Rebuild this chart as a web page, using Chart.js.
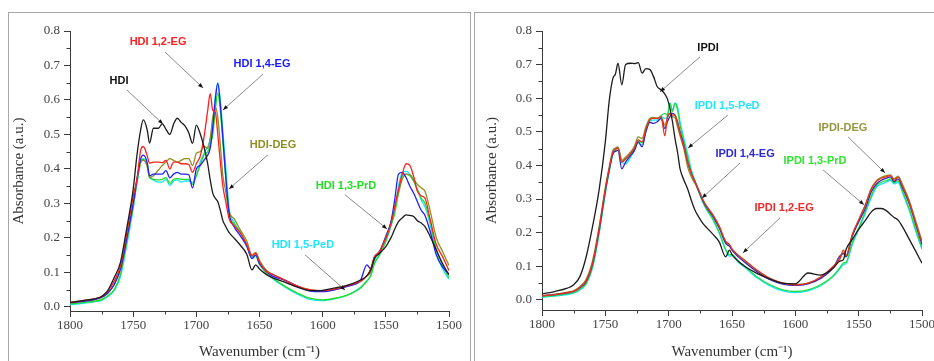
<!DOCTYPE html>
<html>
<head>
<meta charset="utf-8">
<script src="https://cdn.jsdelivr.net/npm/chart.js@4.4.1/dist/chart.umd.min.js"></script>
<style>
  html, body { margin: 0; padding: 0; background: #fff; }
  body { width: 934px; height: 361px; position: relative; overflow: hidden; }
  .panel { position: absolute; top: 12px; height: 370px; border: 1.5px solid #a8a8a8; box-sizing: border-box; }
  #boxL { left: 8px; width: 463px; }
  #boxR { left: 474px; width: 480px; }
  canvas { position: absolute; top: 14px; }
  #hdiChart { left: 10px; }
  #ipdiChart { left: 476px; }
</style>
</head>
<body>
<div class="panel" id="boxL"></div>
<div class="panel" id="boxR"></div>
<canvas id="hdiChart" width="458" height="347"></canvas>
<canvas id="ipdiChart" width="470" height="347"></canvas>
<script>
// ── FTIR spectra, 1800–1500 cm-1 ──────────────────────────────

// HDI panel
const wnHDI = [1800, 1790, 1780, 1775, 1770, 1765, 1760, 1755, 1750,
  1747, 1744, 1742, 1739, 1737, 1734, 1730, 1727, 1724, 1721,
  1718, 1715, 1712, 1709, 1706, 1703, 1700, 1697, 1694, 1691,
  1689, 1687, 1685, 1683, 1681, 1679, 1677, 1674, 1670, 1665,
  1660, 1656, 1653, 1650, 1645, 1640, 1630, 1620, 1610, 1600,
  1590, 1580, 1570, 1565, 1562, 1559, 1555, 1550, 1546, 1543,
  1540, 1537, 1534, 1531, 1528, 1525, 1522, 1519, 1515, 1510,
  1505, 1500];

const hdi = [0.013, 0.018, 0.024, 0.03, 0.048, 0.085, 0.13, 0.23, 0.34,
  0.44, 0.515, 0.542, 0.515, 0.475, 0.518, 0.518, 0.531, 0.515, 0.50,
  0.53, 0.547, 0.535, 0.525, 0.505, 0.474, 0.527, 0.503, 0.465, 0.415,
  0.368, 0.33, 0.315, 0.305, 0.28, 0.25, 0.235, 0.215, 0.199, 0.178,
  0.152, 0.107, 0.122, 0.11, 0.095, 0.085, 0.072, 0.057, 0.047, 0.048,
  0.055, 0.063, 0.078, 0.09, 0.107, 0.14, 0.155, 0.175, 0.2, 0.225,
  0.247, 0.258, 0.267, 0.265, 0.262, 0.25, 0.243, 0.233, 0.205, 0.165,
  0.125, 0.093];

const hdi12EG = [0.013, 0.018, 0.024, 0.03, 0.045, 0.075, 0.12, 0.215, 0.32,
  0.37, 0.455, 0.465, 0.44, 0.417, 0.42, 0.42, 0.418, 0.425, 0.40,
  0.42, 0.42, 0.415, 0.415, 0.413, 0.39, 0.415, 0.436, 0.49, 0.57,
  0.618, 0.57, 0.565, 0.50, 0.42, 0.35, 0.31, 0.255, 0.235, 0.213,
  0.18, 0.148, 0.155, 0.13, 0.104, 0.095, 0.078, 0.06, 0.049, 0.047,
  0.052, 0.062, 0.075, 0.09, 0.11, 0.145, 0.16, 0.2, 0.24, 0.29,
  0.34, 0.385, 0.415, 0.41, 0.378, 0.335, 0.322, 0.315, 0.255, 0.18,
  0.145, 0.105];

const hdi14EG = [0.012, 0.016, 0.022, 0.028, 0.04, 0.065, 0.11, 0.2, 0.3,
  0.37, 0.43, 0.44, 0.42, 0.38, 0.385, 0.385, 0.385, 0.395, 0.374,
  0.385, 0.39, 0.385, 0.385, 0.383, 0.345, 0.40, 0.41, 0.425, 0.44,
  0.46, 0.52, 0.60, 0.648, 0.585, 0.49, 0.39, 0.27, 0.232, 0.205,
  0.175, 0.14, 0.15, 0.125, 0.105, 0.09, 0.077, 0.06, 0.046, 0.044,
  0.05, 0.06, 0.078, 0.122, 0.11, 0.145, 0.16, 0.205, 0.245, 0.31,
  0.385, 0.39, 0.375, 0.35, 0.33, 0.305, 0.28, 0.265, 0.22, 0.15,
  0.115, 0.095];

const hdiDEG = [0.012, 0.016, 0.022, 0.027, 0.04, 0.065, 0.11, 0.2, 0.3,
  0.37, 0.42, 0.425, 0.41, 0.375, 0.38, 0.397, 0.41, 0.42, 0.43,
  0.425, 0.42, 0.425, 0.43, 0.43, 0.41, 0.445, 0.45, 0.465, 0.46,
  0.49, 0.55, 0.58, 0.55, 0.47, 0.38, 0.34, 0.275, 0.255, 0.222,
  0.19, 0.15, 0.158, 0.135, 0.108, 0.095, 0.078, 0.06, 0.05, 0.047,
  0.05, 0.06, 0.073, 0.09, 0.1, 0.14, 0.16, 0.2, 0.245, 0.29,
  0.33, 0.37, 0.385, 0.383, 0.37, 0.355, 0.345, 0.335, 0.28, 0.2,
  0.16, 0.12];

const hdi13PrD = [0.008, 0.012, 0.017, 0.021, 0.032, 0.05, 0.095, 0.19, 0.29,
  0.36, 0.42, 0.428, 0.41, 0.375, 0.37, 0.368, 0.37, 0.375, 0.358,
  0.37, 0.372, 0.37, 0.37, 0.37, 0.355, 0.38, 0.41, 0.44, 0.45,
  0.47, 0.50, 0.57, 0.62, 0.57, 0.48, 0.39, 0.27, 0.24, 0.215,
  0.18, 0.145, 0.15, 0.125, 0.1, 0.085, 0.06, 0.04, 0.025, 0.02,
  0.025, 0.035, 0.055, 0.075, 0.09, 0.125, 0.15, 0.19, 0.235, 0.27,
  0.33, 0.38, 0.385, 0.38, 0.365, 0.34, 0.315, 0.3, 0.25, 0.165,
  0.12, 0.085];

const hdi15PeD = [0.006, 0.01, 0.015, 0.019, 0.03, 0.048, 0.088, 0.18, 0.285,
  0.36, 0.42, 0.43, 0.415, 0.38, 0.368, 0.362, 0.362, 0.37, 0.352,
  0.365, 0.368, 0.362, 0.365, 0.365, 0.36, 0.38, 0.42, 0.445, 0.465,
  0.484, 0.53, 0.61, 0.65, 0.60, 0.51, 0.42, 0.285, 0.245, 0.215,
  0.178, 0.14, 0.148, 0.123, 0.1, 0.083, 0.058, 0.037, 0.022, 0.018,
  0.024, 0.035, 0.057, 0.075, 0.09, 0.13, 0.152, 0.19, 0.235, 0.28,
  0.35, 0.39, 0.393, 0.385, 0.365, 0.34, 0.31, 0.29, 0.24, 0.155,
  0.11, 0.08];

// IPDI panel
const wnIPDI = [1800, 1790, 1780, 1775, 1770, 1765, 1760, 1755, 1750,
  1747, 1744, 1742, 1740, 1737, 1734, 1730, 1727, 1724, 1721,
  1718, 1715, 1712, 1709, 1706, 1703, 1701, 1699, 1697, 1695,
  1693, 1691, 1688, 1685, 1682, 1679, 1676, 1673, 1670, 1665,
  1660, 1655, 1652, 1650, 1645, 1640, 1630, 1620, 1610, 1600,
  1590, 1580, 1570, 1565, 1562, 1560, 1555, 1550, 1545, 1540,
  1536, 1532, 1528, 1525, 1522, 1519, 1515, 1510, 1505, 1500];

const ipdi = [0.018, 0.025, 0.035, 0.045, 0.07, 0.13, 0.22, 0.325, 0.47,
  0.59, 0.66, 0.672, 0.704, 0.64, 0.70, 0.704, 0.703, 0.706, 0.675,
  0.688, 0.686, 0.665, 0.634, 0.625, 0.612, 0.598, 0.57, 0.53, 0.48,
  0.44, 0.39, 0.357, 0.33, 0.295, 0.265, 0.245, 0.228, 0.215, 0.195,
  0.172, 0.128, 0.148, 0.135, 0.115, 0.1, 0.078, 0.062, 0.05, 0.048,
  0.08, 0.074, 0.095, 0.115, 0.12, 0.15, 0.18, 0.21, 0.235, 0.262,
  0.272, 0.272, 0.265, 0.255, 0.245, 0.238, 0.215, 0.18, 0.145, 0.109];

const ipdi12EG = [0.012, 0.016, 0.022, 0.026, 0.038, 0.058, 0.11, 0.21, 0.33,
  0.39, 0.44, 0.448, 0.452, 0.41, 0.42, 0.436, 0.452, 0.476, 0.47,
  0.508, 0.535, 0.54, 0.54, 0.545, 0.488, 0.545, 0.555, 0.55, 0.55,
  0.525, 0.495, 0.455, 0.41, 0.375, 0.35, 0.325, 0.298, 0.278, 0.252,
  0.218, 0.175, 0.165, 0.152, 0.133, 0.118, 0.088, 0.064, 0.05, 0.045,
  0.05, 0.068, 0.1, 0.122, 0.148, 0.132, 0.195, 0.238, 0.28, 0.33,
  0.352, 0.362, 0.367, 0.37, 0.356, 0.365, 0.335, 0.29, 0.23, 0.17];

const ipdi14EG = [0.012, 0.016, 0.021, 0.025, 0.036, 0.056, 0.108, 0.205, 0.325,
  0.385, 0.435, 0.442, 0.445, 0.39, 0.41, 0.43, 0.445, 0.47, 0.455,
  0.5, 0.528, 0.525, 0.53, 0.54, 0.51, 0.53, 0.545, 0.555, 0.55,
  0.53, 0.5, 0.46, 0.41, 0.375, 0.35, 0.322, 0.295, 0.275, 0.248,
  0.213, 0.168, 0.16, 0.148, 0.128, 0.112, 0.083, 0.06, 0.047, 0.043,
  0.048, 0.064, 0.096, 0.13, 0.138, 0.128, 0.19, 0.232, 0.27, 0.322,
  0.345, 0.356, 0.362, 0.366, 0.352, 0.36, 0.33, 0.285, 0.225, 0.165];

const ipdiDEG = [0.012, 0.017, 0.023, 0.027, 0.04, 0.062, 0.118, 0.215, 0.335,
  0.395, 0.445, 0.452, 0.455, 0.415, 0.425, 0.44, 0.458, 0.485, 0.48,
  0.515, 0.54, 0.543, 0.54, 0.545, 0.52, 0.54, 0.555, 0.545, 0.542,
  0.515, 0.488, 0.45, 0.395, 0.365, 0.345, 0.322, 0.298, 0.278, 0.252,
  0.218, 0.172, 0.163, 0.15, 0.132, 0.117, 0.087, 0.063, 0.05, 0.046,
  0.05, 0.066, 0.098, 0.12, 0.14, 0.13, 0.193, 0.237, 0.28, 0.332,
  0.355, 0.365, 0.37, 0.372, 0.36, 0.368, 0.34, 0.295, 0.235, 0.175];

const ipdi13PrD = [0.01, 0.013, 0.018, 0.022, 0.032, 0.05, 0.1, 0.198, 0.32,
  0.385, 0.44, 0.45, 0.452, 0.412, 0.418, 0.432, 0.45, 0.472, 0.468,
  0.505, 0.535, 0.54, 0.54, 0.548, 0.555, 0.55, 0.585, 0.56, 0.585,
  0.565, 0.52, 0.47, 0.425, 0.38, 0.35, 0.32, 0.292, 0.27, 0.24,
  0.2, 0.15, 0.135, 0.135, 0.115, 0.1, 0.068, 0.045, 0.03, 0.025,
  0.03, 0.045, 0.072, 0.095, 0.11, 0.112, 0.17, 0.215, 0.26, 0.31,
  0.34, 0.35, 0.355, 0.36, 0.348, 0.355, 0.32, 0.27, 0.21, 0.155];

const ipdi15PeD = [0.008, 0.011, 0.016, 0.02, 0.03, 0.048, 0.097, 0.195, 0.318,
  0.38, 0.435, 0.445, 0.45, 0.41, 0.405, 0.425, 0.445, 0.468, 0.46,
  0.5, 0.53, 0.535, 0.535, 0.545, 0.54, 0.545, 0.585, 0.565, 0.585,
  0.575, 0.53, 0.48, 0.435, 0.385, 0.352, 0.32, 0.29, 0.268, 0.238,
  0.198, 0.148, 0.13, 0.132, 0.112, 0.097, 0.065, 0.042, 0.027, 0.022,
  0.027, 0.042, 0.07, 0.092, 0.105, 0.108, 0.165, 0.21, 0.255, 0.305,
  0.335, 0.345, 0.35, 0.356, 0.345, 0.35, 0.315, 0.265, 0.205, 0.15];

// axes
const xTicks = [1800, 1750, 1700, 1650, 1600, 1550, 1500];
const xMinorTicks = [1775, 1725, 1675, 1625, 1575, 1525];
const yTicks = [0, 0.1, 0.2, 0.3, 0.4, 0.5, 0.6, 0.7, 0.8];
const yMinorTicks = [0.05, 0.15, 0.25, 0.35, 0.45, 0.55, 0.65, 0.75];

const AXIS = '#3a3a3a';
const SERIF = "'Liberation Serif', 'Times New Roman', serif";

// minor ticks (Chart.js has only one tick length)
const minorTicks = {
  id: 'minorTicks',
  afterDraw(chart) {
    const { ctx, scales: { x, y } } = chart;
    ctx.save();
    ctx.strokeStyle = AXIS;
    ctx.lineWidth = 1;
    ctx.beginPath();
    xMinorTicks.forEach(v => {
      const px = Math.round(x.getPixelForValue(v)) + 0.5;
      ctx.moveTo(px, x.top);
      ctx.lineTo(px, x.top + 3.5);
    });
    yMinorTicks.forEach(v => {
      const py = Math.round(y.getPixelForValue(v)) + 0.5;
      ctx.moveTo(y.right, py);
      ctx.lineTo(y.right - 3.5, py);
    });
    ctx.stroke();
    ctx.restore();
  }
};

// labels with pointer arrows, placed in data coordinates
const arrowLabels = {
  id: 'arrowLabels',
  afterDatasetsDraw(chart, args, opts) {
    const { ctx, scales: { x, y } } = chart;
    ctx.save();
    (opts.items || []).forEach(it => {
      const x0 = x.getPixelForValue(it.from[0]), y0 = y.getPixelForValue(it.from[1]);
      const x1 = x.getPixelForValue(it.to[0]), y1 = y.getPixelForValue(it.to[1]);
      ctx.strokeStyle = '#8a8a8a';
      ctx.lineWidth = 1;
      ctx.beginPath();
      ctx.moveTo(x0, y0);
      ctx.lineTo(x1, y1);
      ctx.stroke();
      const a = Math.atan2(y1 - y0, x1 - x0);
      ctx.fillStyle = '#111';
      ctx.beginPath();
      ctx.moveTo(x1, y1);
      ctx.lineTo(x1 - 5 * Math.cos(a) + 2 * Math.sin(a), y1 - 5 * Math.sin(a) - 2 * Math.cos(a));
      ctx.lineTo(x1 - 5 * Math.cos(a) - 2 * Math.sin(a), y1 - 5 * Math.sin(a) + 2 * Math.cos(a));
      ctx.closePath();
      ctx.fill();
      ctx.font = "bold 11px 'Liberation Sans', Arial, sans-serif";
      ctx.fillStyle = it.color;
      ctx.textAlign = 'center';
      ctx.textBaseline = 'middle';
      ctx.fillText(it.text, x.getPixelForValue(it.at[0]), y.getPixelForValue(it.at[1]));
    });
    ctx.restore();
  }
};

function makeChart(id, wn, series, cfg) {
  const ctx = document.getElementById(id).getContext('2d');
  return new Chart(ctx, {
    type: 'line',
    data: {
      datasets: series.map(s => ({
        label: s.label,
        data: wn.map((w, i) => ({ x: w, y: s.data[i] })),
        borderColor: s.color,
        borderWidth: 1.3,
        pointRadius: 0,
        fill: false,
        cubicInterpolationMode: 'monotone'
      }))
    },
    options: {
      responsive: false,
      animation: false,
      devicePixelRatio: 1,
      layout: { padding: { left: 0, top: 17, right: cfg.rightPad, bottom: 0 } },
      plugins: {
        legend: { display: false },
        tooltip: { enabled: false },
        arrowLabels: { items: cfg.labels }
      },
      scales: {
        x: {
          type: 'linear',
          min: 1500,
          max: 1800,
          reverse: true,
          afterBuildTicks: s => { s.ticks = xTicks.map(v => ({ value: v })); },
          afterFit: s => { s.height = cfg.xHeight; },
          grid: { drawOnChartArea: false, drawTicks: true, tickLength: 6, tickColor: AXIS },
          border: { display: true, color: AXIS, width: 1 },
          ticks: {
            color: '#444',
            font: { family: SERIF, size: 13 },
            padding: 1,
            maxRotation: 0,
            autoSkip: false,
            callback: v => String(v)
          },
          title: {
            display: true,
            text: 'Wavenumber (cm⁻¹)',
            color: '#333',
            font: { family: SERIF, size: 15 },
            padding: { top: 0, bottom: 0 }
          }
        },
        y: {
          min: cfg.yMin,
          max: 0.8,
          afterBuildTicks: s => { s.ticks = yTicks.map(v => ({ value: v })); },
          afterFit: s => { s.width = cfg.yWidth; },
          grid: { drawOnChartArea: false, drawTicks: true, tickLength: 6, tickColor: AXIS },
          border: { display: true, color: AXIS, width: 1 },
          ticks: {
            color: '#444',
            font: { family: SERIF, size: 13 },
            padding: 4,
            callback: v => v.toFixed(1)
          },
          title: {
            display: true,
            text: 'Absorbance (a.u.)',
            color: '#333',
            font: { family: SERIF, size: 15 },
            padding: { top: cfg.yTitlePad, bottom: 0 }
          }
        }
      }
    },
    plugins: [minorTicks, arrowLabels]
  });
}

makeChart('hdiChart', wnHDI, [
  { label: 'HDI', data: hdi, color: '#1c1c1c' },
  { label: 'HDI 1,2-EG', data: hdi12EG, color: '#ff1f1f' },
  { label: 'HDI 1,4-EG', data: hdi14EG, color: '#1f1fff' },
  { label: 'HDI-DEG', data: hdiDEG, color: '#8f8f22' },
  { label: 'HDI 1,3-PrD', data: hdi13PrD, color: '#22dd22' },
  { label: 'HDI 1,5-PeD', data: hdi15PeD, color: '#18e4ff' }
], {
  rightPad: 19, xHeight: 50, yWidth: 60, yMin: -0.012, yTitlePad: 0,
  labels: [
    { text: 'HDI', color: '#111', at: [1761.2, 0.655], from: [1754.9, 0.629], to: [1726.4, 0.53] },
    { text: 'HDI 1,2-EG', color: '#ff2020', at: [1730.3, 0.768], from: [1724.8, 0.739], to: [1694.7, 0.635] },
    { text: 'HDI 1,4-EG', color: '#1a1aff', at: [1648, 0.704], from: [1647.2, 0.675], to: [1678.9, 0.571] },
    { text: 'HDI-DEG', color: '#8f8f26', at: [1639.3, 0.47], from: [1643.3, 0.441], to: [1674.1, 0.342] },
    { text: 'HDI 1,3-PrD', color: '#22e022', at: [1581.5, 0.351], from: [1582.3, 0.325], to: [1549.1, 0.226] },
    { text: 'HDI 1,5-PeD', color: '#1ee6ff', at: [1615.6, 0.18], from: [1614, 0.151], to: [1582.3, 0.049] }
  ]
});

makeChart('ipdiChart', wnIPDI, [
  { label: 'IPDI', data: ipdi, color: '#1c1c1c' },
  { label: 'IPDI 1,2-EG', data: ipdi12EG, color: '#e8321e' },
  { label: 'IPDI 1,4-EG', data: ipdi14EG, color: '#3326b8' },
  { label: 'IPDI-DEG', data: ipdiDEG, color: '#8f8f2a' },
  { label: 'IPDI 1,3-PrD', data: ipdi13PrD, color: '#22dd44' },
  { label: 'IPDI 1,5-PeD', data: ipdi15PeD, color: '#18e4ff' }
], {
  rightPad: 24, xHeight: 51, yWidth: 66, yMin: -0.03, yTitlePad: 7,
  labels: [
    { text: 'IPDI', color: '#111', at: [1668.9, 0.75], from: [1675.3, 0.723], to: [1706.8, 0.619] },
    { text: 'IPDI 1,5-PeD', color: '#22e6ff', at: [1653.9, 0.577], from: [1653.2, 0.55], to: [1684.7, 0.452] },
    { text: 'IPDI 1,4-EG', color: '#2c2cd0', at: [1639.7, 0.434], from: [1643.7, 0.407], to: [1673.7, 0.303] },
    { text: 'IPDI 1,3-PrD', color: '#2ee62e', at: [1584.5, 0.413], from: [1578.2, 0.387], to: [1545.8, 0.283] },
    { text: 'IPDI-DEG', color: '#969640', at: [1562.4, 0.512], from: [1558.4, 0.485], to: [1529.2, 0.378] },
    { text: 'IPDI 1,2-EG', color: '#ee2a2a', at: [1608.9, 0.274], from: [1612.1, 0.244], to: [1641.3, 0.14] }
  ]
});
</script>
</body>
</html>
